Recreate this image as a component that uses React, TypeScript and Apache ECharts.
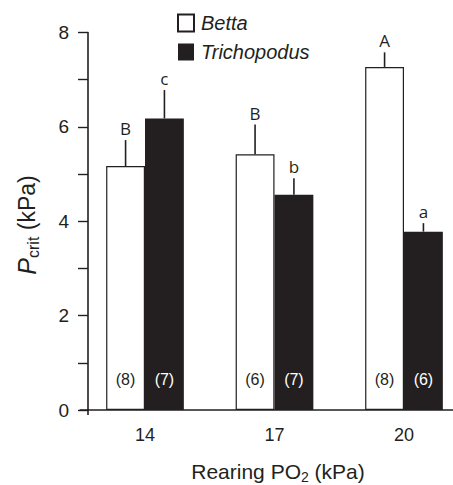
import React, { useEffect, useRef } from 'react';
import * as echarts from 'echarts';

const categories = ['14', '17', '20'];
const bettaMeans = [5.17, 5.42, 7.27];
const bettaErr = [0.55, 0.63, 0.31];
const trichMeans = [6.18, 4.56, 3.78];
const trichErr = [0.6, 0.35, 0.18];
const bettaLetters = ['B', 'B', 'A'];
const trichLetters = ['c', 'b', 'a'];
const bettaN = ['(8)', '(6)', '(8)'];
const trichN = ['(7)', '(7)', '(6)'];
const seriesNames = ['Betta', 'Trichopodus'];

const INK = '#231f20';
const SANS = '"Liberation Sans", Arial, sans-serif';
const LETTER_FONT = '"Open Sans", sans-serif';
const BAR_FRAC = 0.3;

function errSeries(means: number[], errs: number[], letters: string[], side: number) {
  return {
    type: 'custom',
    silent: true,
    z: 5,
    data: means.map((m, i) => [i, m, errs[i]]),
    encode: { x: 0, y: 1 },
    renderItem: (params: any, api: any) => {
      const i = api.value(0);
      const m = api.value(1);
      const e = api.value(2);
      const band = api.size([1, 0])[0];
      const bw = band * BAR_FRAC;
      const base = api.coord([i, m]);
      const x = base[0] + (side * bw) / 2;
      const top = api.coord([i, m + e])[1];
      return {
        type: 'group',
        children: [
          {
            type: 'line',
            shape: { x1: x, y1: base[1], x2: x, y2: top },
            style: { stroke: INK, lineWidth: 1.6 },
          },
          {
            type: 'text',
            style: {
              text: letters[params.dataIndex],
              x,
              y: top - 3,
              align: 'center',
              verticalAlign: 'bottom',
              fontSize: 17,
              fontFamily: LETTER_FONT,
              fill: INK,
            },
          },
        ],
      };
    },
  };
}

export default function App() {
  const ref = useRef<HTMLDivElement>(null);
  useEffect(() => {
    if (!ref.current) return;
    const chart = echarts.init(ref.current, undefined, { renderer: 'svg' });
    const option: any = {
      animation: false,
      backgroundColor: '#ffffff',
      grid: { left: 80.25, top: 32.5, width: 388.5, bottom: 75 },
      legend: {
        data: seriesNames,
        orient: 'vertical',
        left: 177,
        top: 13,
        padding: 0,
        itemWidth: 16,
        itemHeight: 17,
        itemGap: 9,
        icon: 'rect',
        textStyle: {
          fontSize: 20,
          fontStyle: 'italic',
          fontFamily: SANS,
          color: INK,
          padding: [0, 0, 0, 2],
        },
      },
      xAxis: {
        type: 'category',
        data: categories,
        boundaryGap: true,
        axisLine: { lineStyle: { color: INK, width: 1.6 } },
        axisTick: { show: false },
        axisLabel: { fontSize: 18, fontFamily: SANS, color: INK, margin: 16 },
      },
      yAxis: {
        type: 'value',
        min: 0,
        max: 8,
        interval: 1,
        offset: -7.75,
        splitLine: { show: false },
        axisLine: { show: true, lineStyle: { color: INK, width: 1.6 } },
        axisTick: { show: true, length: 10, lineStyle: { color: INK, width: 1.4 } },
        axisLabel: {
          fontSize: 19,
          fontFamily: SANS,
          color: INK,
          margin: 19,
          formatter: (v: number) => (v % 2 === 0 ? String(v) : ''),
        },
      },
      series: [
        {
          name: seriesNames[0],
          type: 'bar',
          data: bettaMeans,
          barWidth: '30%',
          barGap: '0%',
          itemStyle: { color: '#ffffff', borderColor: INK, borderWidth: 1.2 },
          label: {
            show: true,
            position: 'insideBottom',
            distance: 23,
            fontSize: 16,
            fontFamily: SANS,
            color: INK,
            formatter: (p: any) => bettaN[p.dataIndex],
          },
        },
        {
          name: seriesNames[1],
          type: 'bar',
          data: trichMeans,
          barWidth: '30%',
          barGap: '0%',
          itemStyle: { color: INK },
          label: {
            show: true,
            position: 'insideBottom',
            distance: 23,
            fontSize: 16,
            fontFamily: SANS,
            color: '#ffffff',
            formatter: (p: any) => trichN[p.dataIndex],
          },
        },
        errSeries(bettaMeans, bettaErr, bettaLetters, -1),
        errSeries(trichMeans, trichErr, trichLetters, 1),
      ],
      graphic: [
        {
          type: 'text',
          x: 27,
          y: 225,
          rotation: Math.PI / 2,
          style: {
            text: '{p|P}{s|crit}{n| (kPa)}',
            align: 'center',
            verticalAlign: 'middle',
            rich: {
              p: { fontSize: 25, fontStyle: 'italic', fontFamily: SANS, fill: INK, lineHeight: 28 },
              s: { fontSize: 16, fontFamily: SANS, fill: INK, lineHeight: 16, verticalAlign: 'bottom' },
              n: { fontSize: 23, fontFamily: SANS, fill: INK, lineHeight: 28 },
            },
          },
        },
        {
          type: 'text',
          x: 278,
          y: 471,
          style: {
            text: '{n|Rearing PO}{s|2}{n| (kPa)}',
            align: 'center',
            verticalAlign: 'middle',
            rich: {
              n: { fontSize: 21, fontFamily: SANS, fill: INK, lineHeight: 26 },
              s: { fontSize: 14, fontFamily: SANS, fill: INK, lineHeight: 12, verticalAlign: 'bottom' },
            },
          },
        },
        {
          type: 'line',
          shape: { x1: 88, y1: 409, x2: 88, y2: 415 },
          style: { stroke: INK, lineWidth: 1.6 },
        },
      ],
    };
    chart.setOption(option);
    return () => chart.dispose();
  }, []);
  return (
    <div
      style={{
        position: 'fixed',
        left: 0,
        top: 0,
        width: 453,
        height: 485,
        overflow: 'hidden',
        background: '#fff',
      }}
    >
      <div ref={ref} style={{ width: 480, height: 485 }} />
    </div>
  );
}
